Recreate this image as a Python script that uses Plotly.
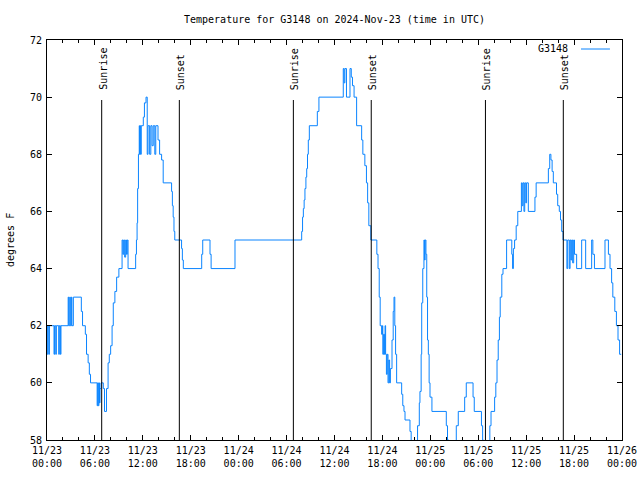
import pandas as pd
import plotly.graph_objects as go

base = pd.Timestamp("2024-11-23 00:00")

# hours since 2024-11-23 00:00 UTC and temperature (deg F), step changes
hours = [0.0, 0.08, 0.22, 0.3, 0.88, 0.95, 1.1, 1.17, 1.47, 1.54, 1.68, 1.75, 2.65, 2.72, 2.85, 2.92,
         3.05, 3.12, 3.3,
         4.3, 4.45, 4.8, 4.95, 5.15, 5.3, 5.45, 6.28, 6.35, 6.42, 6.5, 6.57, 6.64, 6.76, 7.05, 7.2,
         7.45, 7.65, 7.8, 7.97, 8.15, 8.3, 8.5, 8.72, 9.0, 9.4, 9.5, 9.6, 9.72, 9.85, 9.95, 10.05,
         10.15, 11.1, 11.2, 11.28, 11.35, 11.45, 11.55, 11.6, 11.67, 11.73, 11.8, 12.06, 12.2, 12.4,
         12.55, 12.65, 12.85, 13.0, 13.15, 13.3, 13.5, 13.62, 13.9, 14.1, 14.35, 14.55, 15.6, 15.7,
         15.8, 15.9, 16.0, 16.85, 16.95, 17.07, 19.37, 19.5, 20.41, 20.55, 23.54,
         31.89, 32.0, 32.1, 32.2, 32.3, 32.42, 32.52, 32.62, 32.72, 32.85, 33.85, 34.05, 37.1, 37.2,
         37.3, 37.5, 37.94, 38.1, 38.25, 38.45, 38.77, 39.4, 39.55, 39.8, 40.0, 40.15, 40.3, 40.55,
         41.3, 41.45, 41.6, 41.72, 41.9, 42.0, 42.05, 42.15, 42.25, 42.33, 42.4, 42.5, 42.6, 42.7,
         42.8, 42.9, 43.0, 43.2, 43.35, 43.45, 43.55, 43.65, 43.78, 44.41, 44.55, 44.7, 44.83, 45.45,
         45.6, 46.4, 46.62, 46.7, 46.85, 46.92, 47.05, 47.2, 47.28, 47.35, 47.45, 47.55, 47.65, 47.75,
         47.85, 47.96, 48.2,
         50.0, 50.15, 50.3, 51.25, 51.5, 52.3, 52.5, 53.35, 53.5, 54.4, 54.55, 54.64, 55.45, 55.6,
         56.05, 56.2, 56.35, 56.5, 56.65, 56.75, 56.95, 57.1, 57.55, 58.2, 58.3, 58.4, 58.55, 58.75,
         58.95, 59.4, 59.5, 59.6, 59.72, 59.82, 59.95, 60.05, 60.27, 61.1, 61.25, 62.78, 62.95, 63.1,
         63.25, 63.4, 63.8, 63.95, 64.15, 64.3, 64.45, 64.62, 65.1, 65.2, 65.4, 65.5, 65.6, 65.7,
         65.82, 65.95, 66.05, 66.32, 66.95, 67.45, 68.2, 68.35, 68.55, 69.87, 70.3, 70.5, 70.7, 70.85,
         71.1, 71.3, 71.5, 71.7, 71.9]
temps = [61, 62, 61, 62, 61, 62, 61, 62, 61, 62, 61, 62, 63, 62, 63, 62,
         63, 62, 63,
         62.5, 62, 61.7, 61, 60.7, 60.3, 60, 59.2, 60, 59.2, 60, 59.3, 59.8, 60, 59.8, 59,
         59.8, 60.7, 61, 61.3, 62, 62.8, 63.2, 63.7, 64, 65, 64.5, 65, 64.4, 65, 64.5, 65,
         64, 64.5, 65, 65.6, 66.8, 68, 69, 68, 69, 68, 69, 69.3, 69.8, 70,
         68, 69, 68, 69, 68.3, 69, 68, 69, 68.5, 68, 67.8, 67, 66.7, 66.2,
         65.8, 65.3, 65, 64.7, 64.3, 64, 64.5, 65, 64.5, 64, 65,
         65.3, 65.8, 66.1, 66.4, 66.8, 67.2, 67.5, 68, 68.5, 69, 69.5, 70, 71, 70.5,
         71, 70, 71, 70.7, 70.4, 70, 69, 68.5, 68, 67.6, 67, 66.3, 65.5, 65,
         64.5, 64, 63, 62, 61.7, 62, 61, 61.7, 61, 62, 61, 60.3, 61, 60,
         60.8, 60, 60.5, 61.5, 62.5, 63, 62, 61, 60, 59.6, 59.2, 59, 58.7, 58.3,
         57.5, 58.5, 59.3, 59.7, 61, 62.8, 64, 65, 64.3, 65, 64.5, 63, 61.5, 61,
         60, 59.5, 59,
         58.5, 58, 57.5, 58.5, 59, 59.5, 60, 59.5, 59, 58.5, 58, 57.5, 58.5, 59,
         59.5, 60, 60.8, 61.5, 62.3, 63, 63.8, 64, 65, 64.5, 64, 64.7, 65, 65.5,
         66, 67, 66.2, 67, 66, 67, 66.3, 67, 66, 66.5, 67, 67.5, 68, 67.8,
         67.4, 67, 66.6, 66.2, 66, 65.7, 65.3, 65, 64, 65, 64, 65, 64.3, 65,
         64.2, 65, 64.5, 64, 65, 64, 65, 64.5, 64, 65, 64.5, 64, 63.5, 63,
         62.5, 62, 61.5, 61, 61]

sunrise_hours = [6.85, 30.85, 54.9]
sunset_hours = [16.57, 40.6, 64.65]

tick_hours = [0, 6, 12, 18, 24, 30, 36, 42, 48, 54, 60, 66, 72]
y_ticks = [58, 60, 62, 64, 66, 68, 70, 72]

FONT = "DejaVu Sans Mono"
LINE_COLOR = "#0a84ff"

def t(h):
    return base + pd.Timedelta(hours=h)

times = [t(h) for h in hours]
tick_vals = [t(h) for h in tick_hours]
tick_text = [f"{v.strftime('%m/%d')}<br>{v.strftime('%H:%M')}" for v in tick_vals]

fig = go.Figure()
fig.add_trace(go.Scatter(x=times, y=temps, mode="lines", line=dict(color=LINE_COLOR, width=1, shape="hv"),
                         showlegend=False, hoverinfo="skip"))

shapes = []
annotations = []
for label, hs in (("Sunrise", sunrise_hours), ("Sunset", sunset_hours)):
    for h in hs:
        shapes.append(dict(type="line", xref="x", yref="paper", x0=t(h), x1=t(h), y0=0, y1=0.85,
                           line=dict(color="black", width=1)))
        annotations.append(dict(x=t(h), y=0.87, xref="x", yref="paper", text=label, showarrow=False,
                                textangle=-90, xanchor="center", yanchor="bottom", xshift=1,
                                font=dict(family=FONT, size=10, color="black")))

# legend (key) drawn top-right like gnuplot
annotations.append(dict(x=0.906, y=0.9775, xref="paper", yref="paper", text="G3148", showarrow=False,
                        xanchor="right", yanchor="middle", xshift=2,
                        font=dict(family=FONT, size=10, color="black")))
shapes.append(dict(type="line", xref="paper", yref="paper", x0=0.9287, x1=0.979, y0=0.9775, y1=0.9775,
                   line=dict(color=LINE_COLOR, width=1)))

annotations.append(dict(x=0, y=0.5, xref="paper", yref="paper", text="degrees F", showarrow=False,
                        textangle=-90, xanchor="center", yanchor="middle", xshift=-37,
                        font=dict(family=FONT, size=10, color="black")))

fig.update_layout(
    width=640, height=480, autosize=False,
    margin=dict(l=47, r=18, t=40, b=40),
    paper_bgcolor="white", plot_bgcolor="white",
    title=dict(text="Temperature for G3148 on 2024-Nov-23 (time in UTC)", x=0.5, xref="paper",
               y=1 - 19 / 480, yanchor="middle", font=dict(family=FONT, size=10, color="black")),
    font=dict(family=FONT, size=10, color="black"),
    shapes=shapes, annotations=annotations,
    xaxis=dict(type="date", range=[t(0), t(72)], tickvals=tick_vals, ticktext=tick_text,
               showgrid=False, zeroline=False, showline=True, linecolor="black", linewidth=1,
               mirror="allticks", ticks="inside", ticklen=5, tickcolor="black", automargin=False,
               ticklabelstandoff=1,
               minor=dict(dtick=2 * 3600 * 1000, ticks="inside", ticklen=3, tickcolor="black", showgrid=False),
               tickfont=dict(family=FONT, size=10, color="black")),
    yaxis=dict(range=[58, 72], tickvals=y_ticks, showgrid=False, zeroline=False, showline=True,
               linecolor="black", linewidth=1, mirror="allticks", ticks="inside", ticklen=5,
               tickcolor="black", automargin=False, ticklabelstandoff=2,
               tickfont=dict(family=FONT, size=10, color="black")),
)

fig.write_html("out.html", config={"displayModeBar": False},
               post_script="document.body.style.margin='0';document.body.style.padding='0';")
